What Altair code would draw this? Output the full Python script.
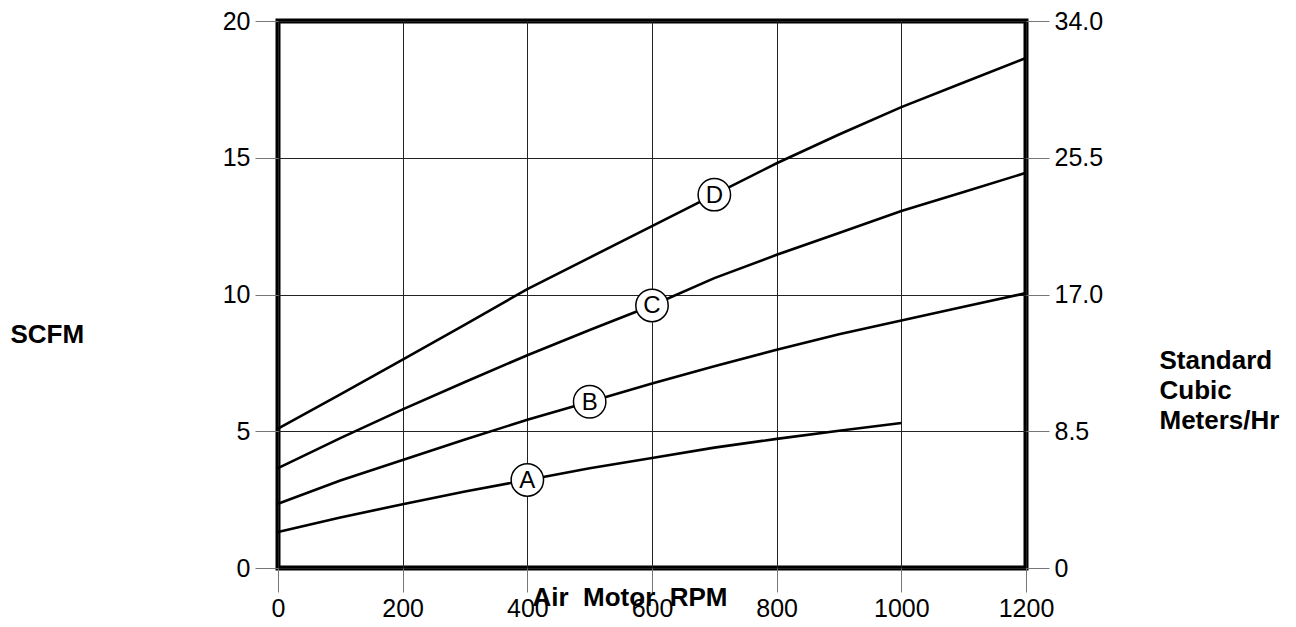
import altair as alt
import pandas as pd

# ---- data ----
rpm_a = [0, 100, 200, 300, 400, 500, 600, 700, 800, 900, 1000]
scfm_a = [1.32, 1.85, 2.33, 2.8, 3.22, 3.65, 4.02, 4.4, 4.72, 5.02, 5.3]

rpm_bcd = [0, 100, 200, 300, 400, 500, 600, 700, 800, 900, 1000, 1100, 1200]
scfm_b = [2.35, 3.2, 3.95, 4.7, 5.42, 6.08, 6.75, 7.38, 7.98, 8.55, 9.05, 9.55, 10.05]
scfm_c = [3.65, 4.75, 5.8, 6.8, 7.78, 8.7, 9.6, 10.6, 11.45, 12.25, 13.05, 13.75, 14.45]
scfm_d = [5.1, 6.35, 7.62, 8.9, 10.2, 11.35, 12.5, 13.65, 14.8, 15.85, 16.85, 17.75, 18.65]

label_names = ["A", "B", "C", "D"]
label_rpm = [400, 500, 600, 700]
label_scfm = [3.22, 6.08, 9.6, 13.65]

x_ticks = [0, 200, 400, 600, 800, 1000, 1200]
left_ticks = [0, 5, 10, 15, 20]
right_ticks = [0, 8.5, 17.0, 25.5, 34.0]

# ---- tables ----
rows = []
for name, xs, ys in [("A", rpm_a, scfm_a), ("B", rpm_bcd, scfm_b),
                     ("C", rpm_bcd, scfm_c), ("D", rpm_bcd, scfm_d)]:
    for xv, yv in zip(xs, ys):
        rows.append({"curve": name, "rpm": xv, "scfm": yv})
df_lines = pd.DataFrame(rows)
df_labels = pd.DataFrame({"name": label_names, "rpm": label_rpm, "scfm": label_scfm})
df_right = pd.DataFrame({"m3": right_ticks})

FONT = "Liberation Sans"
NB = "\u00a0"

x_enc = alt.X(
    "rpm:Q",
    scale=alt.Scale(domain=[0, 1200], nice=False),
    axis=alt.Axis(
        values=x_ticks, grid=True, title=f"Air{NB} Motor{NB} RPM", format="d",
        tickSize=24, labelPadding=4, labelFlush=False, labelOverlap=False,
        titleX=254, titleY=37, titleAlign="left", titleBaseline="alphabetic",
    ),
)
y_enc = alt.Y(
    "scfm:Q",
    scale=alt.Scale(domain=[0, 20], nice=False),
    axis=alt.Axis(
        values=left_ticks, grid=True, orient="left", title="SCFM",
        tickSize=23, labelPadding=5, labelFlush=False, labelOverlap=False,
        titleAngle=0, titleX=-268, titleY=321, titleAlign="left",
        titleBaseline="alphabetic",
    ),
)

lines = alt.Chart(df_lines).mark_line(color="black", strokeWidth=2.6).encode(
    x=x_enc, y=y_enc, detail="curve:N"
)

circles = alt.Chart(df_labels).mark_point(
    shape="circle", size=1050, filled=True, fill="white", fillOpacity=1,
    stroke="black", strokeWidth=1.5, opacity=1
).encode(x=alt.X("rpm:Q"), y=alt.Y("scfm:Q"))

texts = alt.Chart(df_labels).mark_text(
    font=FONT, fontSize=24, align="center", baseline="middle", dy=1, color="black"
).encode(x=alt.X("rpm:Q"), y=alt.Y("scfm:Q"), text="name:N")

left_layer = alt.layer(lines, circles, texts)

right = alt.Chart(df_right).mark_point(opacity=0).encode(
    y=alt.Y(
        "m3:Q",
        scale=alt.Scale(domain=[0, 34], nice=False),
        axis=alt.Axis(
            orient="right", values=right_ticks, grid=False,
            labelExpr="datum.value == 0 ? '0' : format(datum.value, '.1f')",
            tickSize=23, labelPadding=5, labelFlush=False, labelOverlap=False,
            title=["Standard", "Cubic", "Meters/Hr"],
            titleAngle=0, titleX=133, titleY=326, titleAlign="left",
            titleBaseline="top", titleLineHeight=30,
        ),
    )
)

chart = (
    alt.layer(left_layer, right)
    .resolve_scale(y="independent")
    .properties(
        width=748, height=547,
        padding={"left": 270, "top": 13, "right": 262, "bottom": 51},
        autosize=alt.AutoSizeParams(type="none"),
        background="white",
    )
    .configure_view(stroke="black", strokeWidth=5)
    .configure_axis(
        domain=False,
        labelFont=FONT, labelFontSize=25, labelColor="black",
        titleFont=FONT, titleFontSize=26, titleFontWeight="bold", titleColor="black",
        tickColor="#777777", tickWidth=1,
        gridColor="#222222", gridWidth=1, gridOpacity=1,
    )
)

chart.save("out.html", embed_options={"renderer": "svg", "actions": False})
